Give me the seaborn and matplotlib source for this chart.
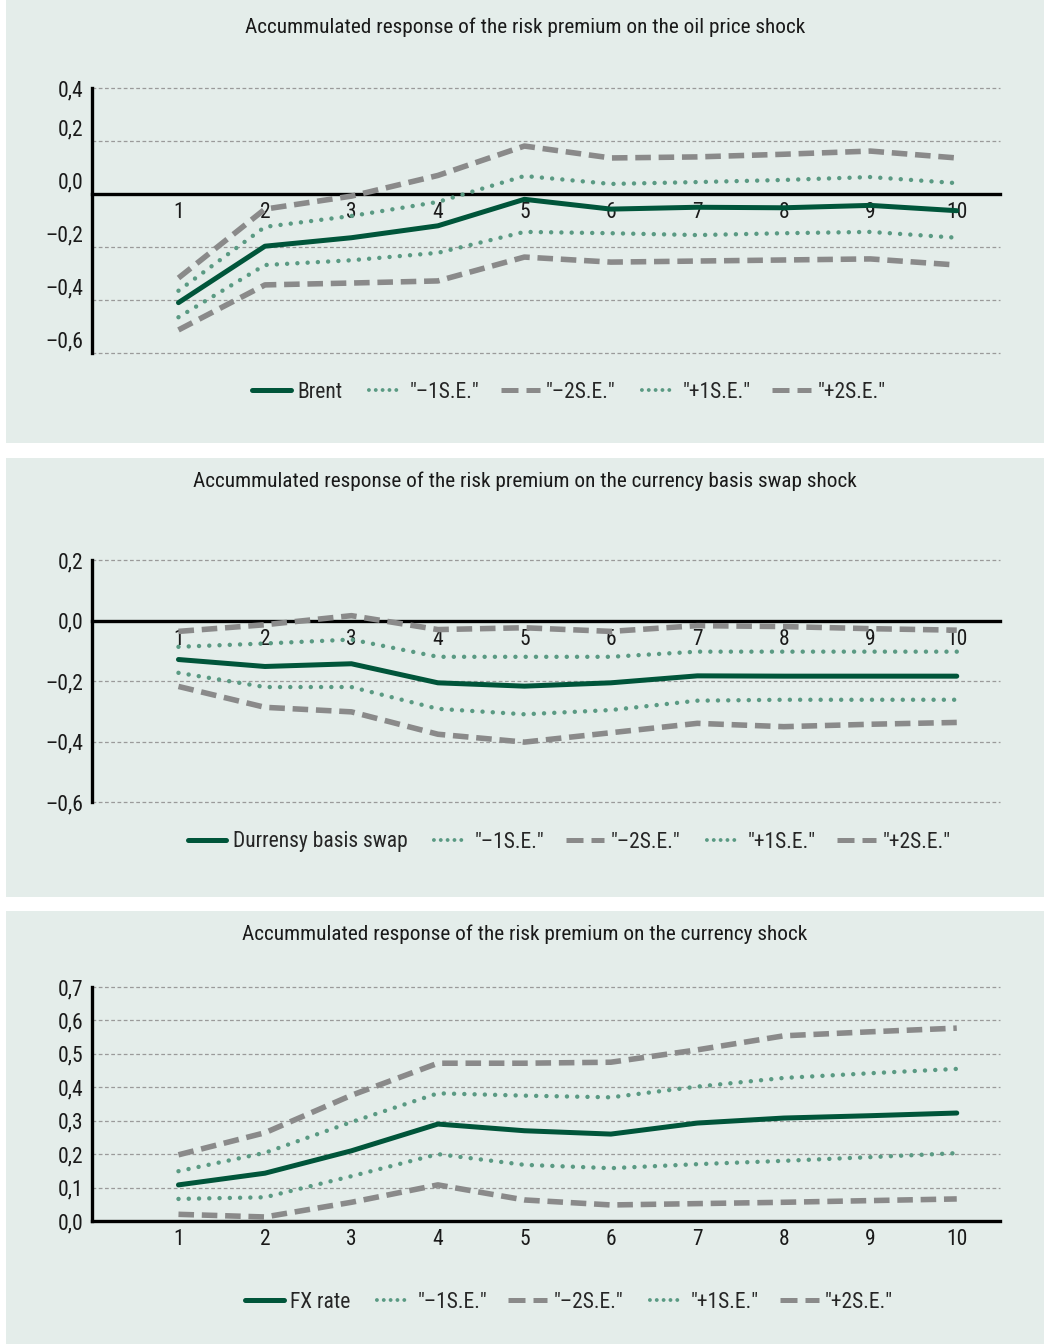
import numpy as np
import pandas as pd
import matplotlib
matplotlib.use("Agg")
import matplotlib.pyplot as plt
from matplotlib.lines import Line2D
from matplotlib.patches import Rectangle
from matplotlib.ticker import FuncFormatter
from matplotlib import font_manager
import matplotlib.transforms as mtransforms
import seaborn as sns

# ---- data -----------------------------------------------------------------
periods = list(range(1, 11))

oil_brent = [-0.41, -0.197, -0.165, -0.12, -0.02, -0.057, -0.05, -0.052, -0.043, -0.063]
oil_m1se = [-0.465, -0.268, -0.25, -0.222, -0.143, -0.148, -0.155, -0.148, -0.143, -0.165]
oil_m2se = [-0.513, -0.343, -0.336, -0.328, -0.238, -0.257, -0.253, -0.249, -0.245, -0.268]
oil_p1se = [-0.365, -0.124, -0.083, -0.03, 0.068, 0.038, 0.045, 0.053, 0.064, 0.041]
oil_p2se = [-0.317, -0.057, -0.008, 0.07, 0.181, 0.136, 0.14, 0.15, 0.162, 0.136]

cbs_main = [-0.129, -0.152, -0.143, -0.206, -0.217, -0.206, -0.183, -0.184, -0.184, -0.184]
cbs_m1se = [-0.173, -0.220, -0.220, -0.292, -0.310, -0.296, -0.265, -0.262, -0.262, -0.262]
cbs_m2se = [-0.218, -0.287, -0.302, -0.376, -0.402, -0.371, -0.340, -0.351, -0.343, -0.337]
cbs_p1se = [-0.087, -0.076, -0.063, -0.120, -0.120, -0.120, -0.103, -0.103, -0.103, -0.103]
cbs_p2se = [-0.036, -0.014, 0.016, -0.030, -0.024, -0.036, -0.017, -0.020, -0.027, -0.032]

fx_main = [0.108, 0.143, 0.21, 0.29, 0.27, 0.26, 0.293, 0.308, 0.315, 0.323]
fx_m1se = [0.066, 0.071, 0.134, 0.2, 0.168, 0.158, 0.17, 0.18, 0.191, 0.203]
fx_m2se = [0.02, 0.012, 0.056, 0.108, 0.063, 0.048, 0.052, 0.056, 0.061, 0.066]
fx_p1se = [0.149, 0.204, 0.296, 0.382, 0.375, 0.37, 0.402, 0.428, 0.442, 0.455]
fx_p2se = [0.198, 0.264, 0.376, 0.472, 0.472, 0.475, 0.512, 0.554, 0.566, 0.577]

band_labels = ['"\u20131S.E."', '"\u20132S.E."', '"+1S.E."', '"+2S.E."']

titles = [
    "Accummulated response of the risk premium on the oil price shock",
    "Accummulated response of the risk premium on the currency basis swap shock",
    "Accummulated response of the risk premium on the currency shock",
]
main_labels = ["Brent", "Durrensy basis swap", "FX rate"]

y_ranges = [(-0.6, 0.4), (-0.6, 0.2), (0.0, 0.7)]
y_ticks = [
    [-0.6, -0.4, -0.2, 0.0, 0.2, 0.4],
    [-0.6, -0.4, -0.2, 0.0, 0.2],
    [0.0, 0.1, 0.2, 0.3, 0.4, 0.5, 0.6, 0.7],
]

# ---- style ----------------------------------------------------------------
sns.set_theme(style="white")

# prefer a narrow face when one is available
_names = {f.name for f in font_manager.fontManager.ttflist}
_narrow = [n for n in ("Liberation Sans Narrow", "DejaVu Sans Condensed",
                       "Roboto Condensed", "Open Sans Condensed")
           if n in _names]
_condensed_dejavu = any(f.name == "DejaVu Sans" and f.stretch in
                        ("condensed", "semi-condensed", 87.5, 75)
                        for f in font_manager.fontManager.ttflist)
if _narrow:
    plt.rcParams["font.family"] = [_narrow[0], "DejaVu Sans"]
    FS_T, FS = 15.3, 15.5
elif _condensed_dejavu:
    plt.rcParams["font.family"] = ["DejaVu Sans"]
    plt.rcParams["font.stretch"] = "condensed"
    FS_T, FS = 14, 15
else:
    plt.rcParams["font.family"] = ["Liberation Sans", "DejaVu Sans"]
    FS_T, FS = 13.5, 15

BG = "#E4EDEA"
C_MAIN = "#00553A"
C_DOT = "#5A9A83"
C_DASH = "#8A8A8A"

W, H = 1044, 1344
fig = plt.figure(figsize=(W / 100, H / 100), dpi=100)
fig.patch.set_facecolor("white")


def fx(px):
    return px / W


def fy(py):
    return 1 - py / H


# panel backgrounds (pixel bounds: top, bottom)
panels = [(0, 443), (458, 897), (911, 1344)]
for top, bot in panels:
    fig.add_artist(Rectangle((fx(6), fy(bot)), fx(W - 6), (bot - top) / H,
                             transform=fig.transFigure, facecolor=BG,
                             edgecolor="none", zorder=0))

# plotting area in pixels: (top, bottom)
axes_px = [(88, 353), (560, 802), (987, 1221)]
title_y = [27, 481, 934]
legend_y = [392, 842, 1302]

series_sets = [
    (oil_brent, oil_m1se, oil_m2se, oil_p1se, oil_p2se),
    (cbs_main, cbs_m1se, cbs_m2se, cbs_p1se, cbs_p2se),
    (fx_main, fx_m1se, fx_m2se, fx_p1se, fx_p2se),
]

dot_style = dict(color=C_DOT, linewidth=3.2, linestyle=(0, (0.01, 2.3)),
                 dash_capstyle="round", solid_capstyle="round")
dash_style = dict(color=C_DASH, linewidth=4.0, linestyle=(0, (2.8, 1.4)),
                  dash_capstyle="butt")
main_style = dict(color=C_MAIN, linewidth=3.6, linestyle="-")
# legend keys use tighter dot/dash spacing
dot_key = dict(dot_style, linewidth=2.8, linestyle=(0.5, (0.01, 1.75)))
dash_key = dict(dash_style, linewidth=3.6, linestyle=(0, (3.4, 1.6)))


def fmt(v, _):
    s = f"{abs(v):.1f}".replace(".", ",")
    return ("\u2013" + s) if v < -1e-9 else s


for i, (top, bot) in enumerate(axes_px):
    ax = fig.add_axes([fx(92), fy(bot), fx(1000 - 92), (bot - top) / H])
    ax.set_facecolor("none")
    main, m1, m2, p1, p2 = series_sets[i]

    df = pd.DataFrame({"period": periods, "main": main, "m1": m1,
                       "m2": m2, "p1": p1, "p2": p2})
    sns.lineplot(data=df, x="period", y="p2", ax=ax, zorder=3, **dash_style)
    sns.lineplot(data=df, x="period", y="m2", ax=ax, zorder=3, **dash_style)
    sns.lineplot(data=df, x="period", y="p1", ax=ax, zorder=4, **dot_style)
    sns.lineplot(data=df, x="period", y="m1", ax=ax, zorder=4, **dot_style)
    sns.lineplot(data=df, x="period", y="main", ax=ax, zorder=5, **main_style)

    ax.set_xlim(0, 10.5)
    ax.set_ylim(*y_ranges[i])
    ax.set_xlabel("")
    ax.set_ylabel("")

    # horizontal dashed grid
    for t in y_ticks[i]:
        if abs(t) > 1e-9:
            ax.axhline(t, color="#9A9A9A", linewidth=0.9,
                       linestyle=(0, (3, 2)), zorder=1, clip_on=False)

    ax.set_yticks(y_ticks[i])
    ax.yaxis.set_major_formatter(FuncFormatter(fmt))
    ax.set_xticks(periods)
    ax.set_xticklabels([str(p) for p in periods])
    ax.set_xticks(np.arange(0.5, 10.6, 1.0), minor=True)

    for side in ["top", "right"]:
        ax.spines[side].set_visible(False)
    ax.spines["left"].set_linewidth(2.4)
    ax.spines["left"].set_color("black")
    ax.spines["bottom"].set_linewidth(2.4)
    ax.spines["bottom"].set_color("black")
    ax.spines["bottom"].set_position(("data", 0))
    ax.spines["bottom"].set_zorder(2)

    ax.tick_params(axis="y", which="both", length=0, pad=6,
                   labelsize=FS, labelcolor="#1a1a1a")
    ax.tick_params(axis="x", which="major", length=0, pad=6,
                   labelsize=FS, labelcolor="#1a1a1a")
    ax.tick_params(axis="x", which="minor", length=4, width=0.8,
                   direction="inout", color="#555555")

    # the first panel sets its lower value labels slightly above their lines
    if i == 0:
        lift = mtransforms.ScaledTranslation(0, 14 / 100, fig.dpi_scale_trans)
        ticks = ax.yaxis.get_major_ticks(len(y_ticks[i]))
        for k, tk in enumerate(ticks):
            if k < len(y_ticks[i]) - 1:
                tk.label1.set_transform(tk.label1.get_transform() + lift)

    fig.text(fx(525), fy(title_y[i]), titles[i], ha="center", va="center",
             fontsize=FS_T, color="#1a1a1a")

    handles = [
        Line2D([], [], **main_style),
        Line2D([], [], **dot_key),
        Line2D([], [], **dash_key),
        Line2D([], [], **dot_key),
        Line2D([], [], **dash_key),
    ]
    labels = [main_labels[i]] + band_labels
    fig.legend(handles, labels, loc="center", ncol=5, frameon=False,
               bbox_to_anchor=(fx(569), fy(legend_y[i])),
               bbox_transform=fig.transFigure, fontsize=FS,
               handlelength=1.8, handletextpad=0.3, columnspacing=1.0)

fig.savefig("out.png", dpi=100, facecolor="white")
